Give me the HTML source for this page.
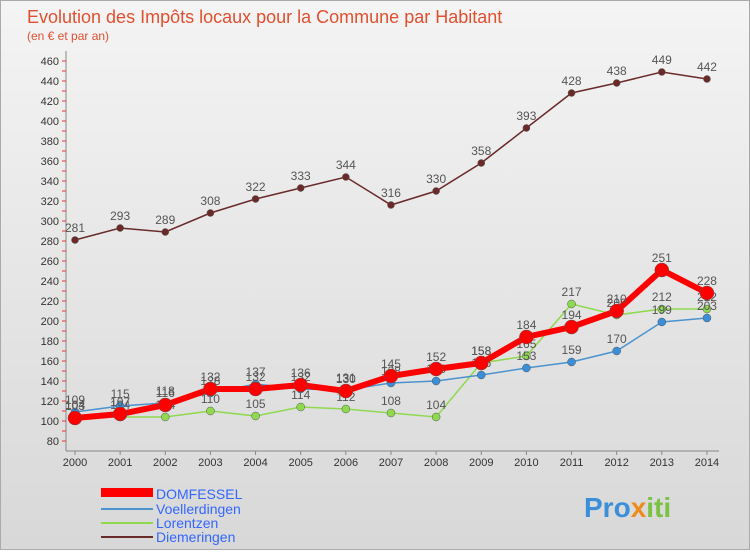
<!DOCTYPE html>
<html><head><meta charset="utf-8"><style>
body{margin:0;width:750px;height:550px;overflow:hidden;font-family:"Liberation Sans",sans-serif}
#wrap{position:relative;width:748px;height:548px;border:1px solid #aaa;background:linear-gradient(#f4f4f4,#d8d8d8)}
</style></head><body>
<div id="wrap">
<svg id="c" width="748" height="548" xmlns="http://www.w3.org/2000/svg">
<text x="26" y="22" font-size="18" fill="#e0502f">Evolution des Impôts locaux pour la Commune par Habitant</text>
<text x="26" y="39" font-size="12" fill="#e0502f">(en € et par an)</text>
<g id="grid"></g><g id="series"></g>
<g>
<rect x="100" y="487" width="52" height="9" fill="#f00"/>
<text x="155" y="498" font-size="14" fill="#3366ff">DOMFESSEL</text>
<line x1="100" y1="508" x2="152" y2="508" stroke="#4b93cf" stroke-width="2"/>
<text x="155" y="513" font-size="14" fill="#3366ff">Voellerdingen</text>
<line x1="100" y1="522" x2="152" y2="522" stroke="#8fd94f" stroke-width="2"/>
<text x="155" y="527" font-size="14" fill="#3366ff">Lorentzen</text>
<line x1="100" y1="536" x2="152" y2="536" stroke="#6b2a2a" stroke-width="2"/>
<text x="155" y="541" font-size="14" fill="#3366ff">Diemeringen</text>
</g>
<text x="583" y="516" font-size="28" font-weight="bold" fill="#3a8fd8">Pro<tspan fill="#f08a1c">x</tspan><tspan fill="#7cc242">iti</tspan></text>
</svg></div>
<script>
const years=[2000,2001,2002,2003,2004,2005,2006,2007,2008,2009,2010,2011,2012,2013,2014];
const yTicks=[80,100,120,140,160,180,200,220,240,260,280,300,320,340,360,380,400,420,440,460];
const domfessel=[103,107,116,132,132,136,130,145,152,158,184,194,210,251,228];
const voellerdingen=[109,115,118,128,137,132,131,138,140,146,153,159,170,199,203];
const lorentzen=[104,104,104,110,105,114,112,108,104,158,165,217,206,212,212];
const diemeringen=[281,293,289,308,322,333,344,316,330,358,393,428,438,449,442];
const NS="http://www.w3.org/2000/svg";
const X=i=>74+i*45.14, Y=v=>440-(v-80);
function mk(t,a,p){const e=document.createElementNS(NS,t);for(const k in a)e.setAttribute(k,a[k]);p.appendChild(e);return e;}
const g=document.getElementById('grid'),s=document.getElementById('series');
const ax=mk('line',{x1:65,y1:50,x2:65,y2:450,stroke:'#888'},g);


const xl=mk('line',{x1:65,y1:450,x2:718,y2:450,stroke:'#888'},g);


for(let v=80;v<=460;v+=10){mk('line',{x1:61,y1:Y(v),x2:65,y2:Y(v),stroke:'#e33'},g);}
yTicks.forEach(v=>{const t=mk('text',{x:58,y:Y(v)+4,'font-size':11,fill:'#333','text-anchor':'end'},g);t.textContent=v;

});
years.forEach((y,i)=>{mk('line',{x1:X(i),y1:450,x2:X(i),y2:454,stroke:'#888'},g);const t=mk('text',{x:X(i),y:465,'font-size':11,fill:'#333','text-anchor':'middle'},g);t.textContent=y;

});
function series(d,col,w,r,name,mcol){
const gg=mk('g',{},s);


mk('polyline',{points:d.map((v,i)=>X(i)+','+Y(v)).join(' '),fill:'none',stroke:col,'stroke-width':w},gg);
d.forEach((v,i)=>{const c=mk('circle',{cx:X(i),cy:Y(v),r:r,fill:mcol,stroke:'#555','stroke-width':0.5},gg);


const t=mk('text',{x:X(i),y:Y(v)-8,'font-size':12,fill:'#555','text-anchor':'middle'},gg);t.textContent=v;

});}
series(diemeringen,'#6b2a2a',1.5,3.5,'diemeringen','#6b2a2a');
series(lorentzen,'#8fd94f',1.5,4,'lorentzen','#8fd94f');
series(voellerdingen,'#4b93cf',1.5,4,'voellerdingen','#3a8fd8');
series(domfessel,'#f00',6,7,'domfessel','#f00');
</script>
</body></html>
